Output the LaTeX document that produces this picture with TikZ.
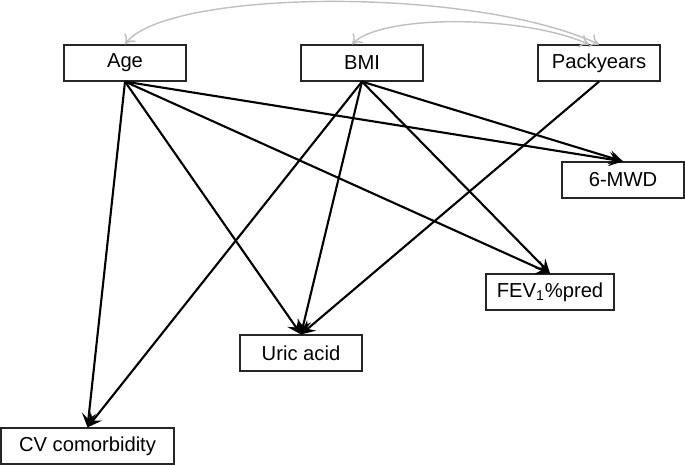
\documentclass[tikz,border=0pt]{standalone}
\usepackage{fontspec}
\setmainfont{Liberation Sans}
\usetikzlibrary{arrows.meta}

\begin{document}
\begin{tikzpicture}[x=0.02cm, y=-0.02cm]
\tikzset{ >={Stealth[length=2.8mm, width=2.8mm, inset=1.1mm]},
  var/.style={draw=black!85, line width=0.7pt, minimum width=2.44cm, minimum height=0.72cm,
              inner sep=0pt, font=\fontsize{11.5}{13}\selectfont},
  eff/.style={->, line width=1.2pt},
  cor/.style={{To[length=1.8mm, width=2.8mm]}-{To[length=1.8mm, width=2.8mm]}, gray!50, line width=0.8pt},
}

\useasboundingbox (0,0) rectangle (685,465);

\node [var] (Age)  at (125,63) {Age};
\node [var] (BMI)  at (362,63) {BMI};
\node [var] (Pack) at (599,63) {Packyears};

\node [var] (MWD) at (623,180) {6-MWD};
\node [var, minimum width=2.56cm] (FEV) at (550,292) {FEV\textsubscript{1}\%pred};
\node [var] (UA)  at (301,353) {Uric acid};
\node [var, minimum width=3.46cm] (CV)  at (87.5,446) {CV comorbidity};

% correlations
\draw [cor] (Age.north) .. controls +(40,-55) and +(-128,-59) .. (Pack.north);
\draw [cor] ([xshift=-0.2cm]BMI.north) .. controls +(28,-30) and +(-68,-30) .. ([xshift=-0.2cm]Pack.north);

% effects
\draw [eff] (Age.south) -- (CV.north);
\draw [eff] (Age.south) -- (UA.north);
\draw [eff] (Age.south) -- (FEV.north);
\draw [eff] (Age.south) -- (MWD.north);

\draw [eff] (BMI.south) -- (CV.north);
\draw [eff] (BMI.south) -- (UA.north);
\draw [eff] (BMI.south) -- (FEV.north);
\draw [eff] (BMI.south) -- (MWD.north);

\draw [eff] (Pack.south) -- (UA.north);
\end{tikzpicture}
\end{document}
